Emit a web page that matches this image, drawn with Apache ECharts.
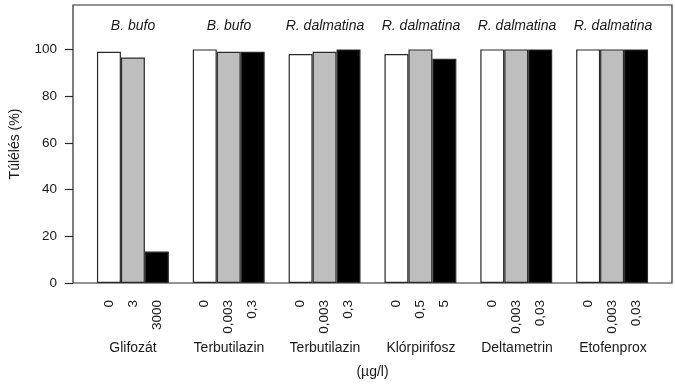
<!DOCTYPE html>
<html><head><meta charset="utf-8">
<script src="https://cdn.jsdelivr.net/npm/echarts@6/dist/echarts.min.js"></script>
<style>html,body{margin:0;padding:0;background:#fff}#c{width:675px;height:385px}</style>
</head><body><div id="c"></div>
<script>
const groups = ['Glifozát','Terbutilazin','Terbutilazin','Klórpirifosz','Deltametrin','Etofenprox'];
const species = ['B. bufo','B. bufo','R. dalmatina','R. dalmatina','R. dalmatina','R. dalmatina'];
const doseLabels = [['0','3','3000'],['0','0,003','0,3'],['0','0,003','0,3'],['0','0,5','5'],['0','0,003','0,03'],['0','0,003','0,03']];
const controlValues = [99,100,98,98,100,100];
const lowValues = [96.5,99,99,100,100,100];
const highValues = [13.5,99,100,96,100,100];
const yTicks = [0,20,40,60,80,100];

const FONT = 'Liberation Sans, Arial, sans-serif';
const TXT = '#1a1a1a';
const nSlots = groups.length * 4 + 1;
const slotIdx = [], slotLabels = [];
for (let i = 0; i < nSlots; i++) { slotIdx.push(String(i)); slotLabels.push(''); }
const mk = () => new Array(nSlots).fill('-');
const sControl = mk(), sLow = mk(), sHigh = mk();
groups.forEach((g, k) => {
  const base = 1 + 4 * k;
  for (let b = 0; b < 3; b++) slotLabels[base + b] = doseLabels[k][b];
  sControl[base] = controlValues[k];
  sLow[base + 1] = lowValues[k];
  sHigh[base + 2] = highValues[k];
});

const barSeries = (data, color) => ({
  type: 'bar', xAxisIndex: 0, yAxisIndex: 0, data,
  barWidth: '100%', barGap: '-100%',
  itemStyle: { color, borderColor: '#2a2a2a', borderWidth: 1.2 },
  silent: true, animation: false
});

const chart = echarts.init(document.getElementById('c'), null, { renderer: 'canvas' });
chart.setOption({
  animation: false,
  textStyle: { fontFamily: FONT },
  grid: [
    { left: 73, top: 5, width: 599, height: 278, show: true, borderColor: '#2a2a2a', borderWidth: 1.2, backgroundColor: 'transparent' },
    { left: 85, top: 5, width: 576, height: 278, show: false }
  ],
  xAxis: [
    { type: 'category', gridIndex: 0, data: slotIdx, boundaryGap: true,
      axisLine: { show: false }, axisTick: { show: false },
      axisLabel: { interval: 0, rotate: 90, margin: 17, fontSize: 13.5, color: TXT, fontFamily: FONT,
        formatter: (v) => slotLabels[+v] },
      name: '(µg/l)', nameLocation: 'middle', nameGap: 82,
      nameTextStyle: { fontSize: 14, color: TXT, fontFamily: FONT } },
    { type: 'category', gridIndex: 1, data: groups, position: 'bottom',
      axisLine: { show: false }, axisTick: { show: false },
      axisLabel: { interval: 0, margin: 58, fontSize: 14, color: TXT, fontFamily: FONT } },
    { type: 'category', gridIndex: 1, data: species, position: 'top',
      axisLine: { show: false }, axisTick: { show: false },
      axisLabel: { interval: 0, inside: true, margin: 14, fontSize: 14, fontStyle: 'italic', color: TXT, fontFamily: FONT } }
  ],
  yAxis: [
    { type: 'value', gridIndex: 0, min: 0, max: 119,
      splitLine: { show: false },
      axisLine: { show: false },
      axisTick: { show: true, length: 8, customValues: yTicks, lineStyle: { color: '#2a2a2a', width: 1.2 } },
      axisLabel: { customValues: yTicks, margin: 16, fontSize: 13.5, color: TXT, fontFamily: FONT },
      name: 'Túlélés (%)', nameLocation: 'middle', nameGap: 51,
      nameTextStyle: { fontSize: 14, color: TXT, fontFamily: FONT } },
    { type: 'value', gridIndex: 1, min: 0, max: 119, show: false }
  ],
  series: [
    barSeries(sControl, '#ffffff'),
    barSeries(sLow, '#bebebe'),
    barSeries(sHigh, '#000000')
  ]
});
</script></body></html>
